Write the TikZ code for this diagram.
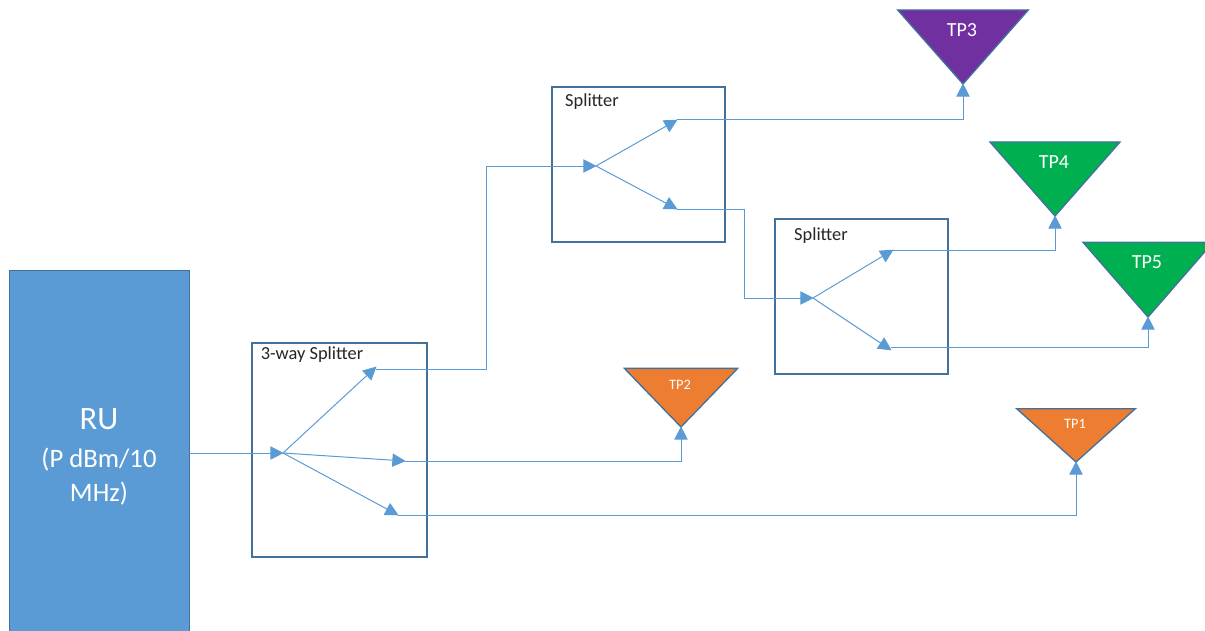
\documentclass[tikz,border=0pt]{standalone}
\usepackage{fontspec}
\setmainfont{Carlito}
\usepackage{xcolor}
\usetikzlibrary{positioning,calc,arrows.meta,shapes.geometric}
\definecolor{wireblue}{HTML}{5B9BD5}
\definecolor{boxblue}{HTML}{41719C}
\definecolor{tporange}{HTML}{ED7D31}
\definecolor{tpgreen}{HTML}{00B050}
\definecolor{tppurple}{HTML}{7030A0}
\tikzstyle{wire} = [draw=wireblue,line width=0.75pt]
\tikzstyle{arrowwire} = [wire,-{Triangle[length=10pt,width=10pt]},shorten >=-0.5pt]
\tikzstyle{splitterbox} = [draw=boxblue,line width=1.3pt,rectangle,inner sep=0pt,outer sep=0pt]
\tikzstyle{boxname} = [font=\fontsize{13.8}{15}\selectfont,text=black!85,inner sep=0pt]
\tikzstyle{tpant} = [draw=boxblue,line width=1pt,isosceles triangle,isosceles triangle stretches,shape border rotate=-90,inner sep=0pt,outer sep=0pt,anchor=apex]
\tikzstyle{tpname} = [text=white,inner sep=0pt,font=\fontsize{15}{17}\selectfont]
\tikzstyle{tpsmall} = [text=white,inner sep=0pt,font=\fontsize{10.8}{12}\selectfont]

\begin{document}
\begin{tikzpicture}[x=0.75pt,y=-0.75pt]
  \useasboundingbox (0,0) rectangle (1205,631);
  % source
  \node[rectangle,draw=boxblue,fill=wireblue,line width=0.75pt,minimum width=135pt,minimum height=280pt,anchor=north west,inner sep=0pt,outer sep=0pt,text=white,align=center,font=\fontsize{20}{25}\selectfont] (ru) at (9,270) {{\fontsize{24.5}{28}\selectfont RU}\\[3.75pt](P dBm/10\\MHz)};
  % boxes
  \node[splitterbox,minimum width=131pt,minimum height=160.5pt,anchor=north west] (split3) at (252,343) {};
  \node[splitterbox,minimum width=130pt,minimum height=116pt,anchor=north west] (splita) at (552,87) {};
  \node[splitterbox,minimum width=130pt,minimum height=116pt,anchor=north west] (splitb) at (775,219) {};
  \node[boxname] (split3name) at (312,355) {3-way Splitter};
  \node[boxname] (splitaname) at (592,102) {Splitter};
  \node[boxname] (splitbname) at (821,236) {Splitter};
  % test points
  \node[tpant,fill=tppurple,minimum width=98pt,minimum height=55.5pt] (tp3) at (963,84) {};
  \node[tpant,fill=tpgreen,minimum width=97.5pt,minimum height=55.5pt] (tp4) at (1055,216) {};
  \node[tpant,fill=tpgreen,minimum width=97.5pt,minimum height=56pt] (tp5) at (1148,317) {};
  \node[tpant,fill=tporange,minimum width=85pt,minimum height=44pt] (tp2) at (681,427) {};
  \node[tpant,fill=tporange,minimum width=89pt,minimum height=40pt] (tp1) at (1076,462) {};
  \node[tpname] (tp3name) at (962,30) {TP3};
  \node[tpname] (tp4name) at (1054,162) {TP4};
  \node[tpname] (tp5name) at (1147,262) {TP5};
  \node[tpsmall] (tp2name) at (680,385) {TP2};
  \node[tpsmall] (tp1name) at (1075,424) {TP1};
  % hubs and branch ends
  \coordinate (huba) at (283,453);
  \coordinate (outa1) at (376,367);
  \coordinate (outa2) at (405,461);
  \coordinate (outa3) at (398,515);
  \coordinate (hubb) at (596,166);
  \coordinate (outb1) at (677,120);
  \coordinate (outb2) at (677,209);
  \coordinate (hubc) at (813,298);
  \coordinate (outc1) at (893,250);
  \coordinate (outc2) at (891,350);
  % connectors
  \draw[arrowwire] (ru.east |- huba) -- (huba);
  \draw[arrowwire] (huba) -- (outa1);
  \draw[arrowwire] (huba) -- (outa2);
  \draw[arrowwire] (huba) -- (outa3);
  \draw[arrowwire] (outa1 |- 0,369) -- ++(110,0) |- (hubb);
  \draw[arrowwire] (outa2) -| (tp2.apex);
  \draw[arrowwire] (outa3) -| (tp1.apex);
  \draw[arrowwire] (hubb) -- (outb1);
  \draw[arrowwire] (hubb) -- (outb2);
  \draw[arrowwire] (outb1) -| (tp3.apex);
  \draw[arrowwire] (outb2) -- ++(67,0) |- (hubc);
  \draw[arrowwire] (hubc) -- (outc1);
  \draw[arrowwire] (hubc) -- (outc2);
  \draw[arrowwire] (outc1) -| (tp4.apex);
  \draw[arrowwire] (outc2 |- 0,347) -| (tp5.apex);
\end{tikzpicture}
\end{document}
